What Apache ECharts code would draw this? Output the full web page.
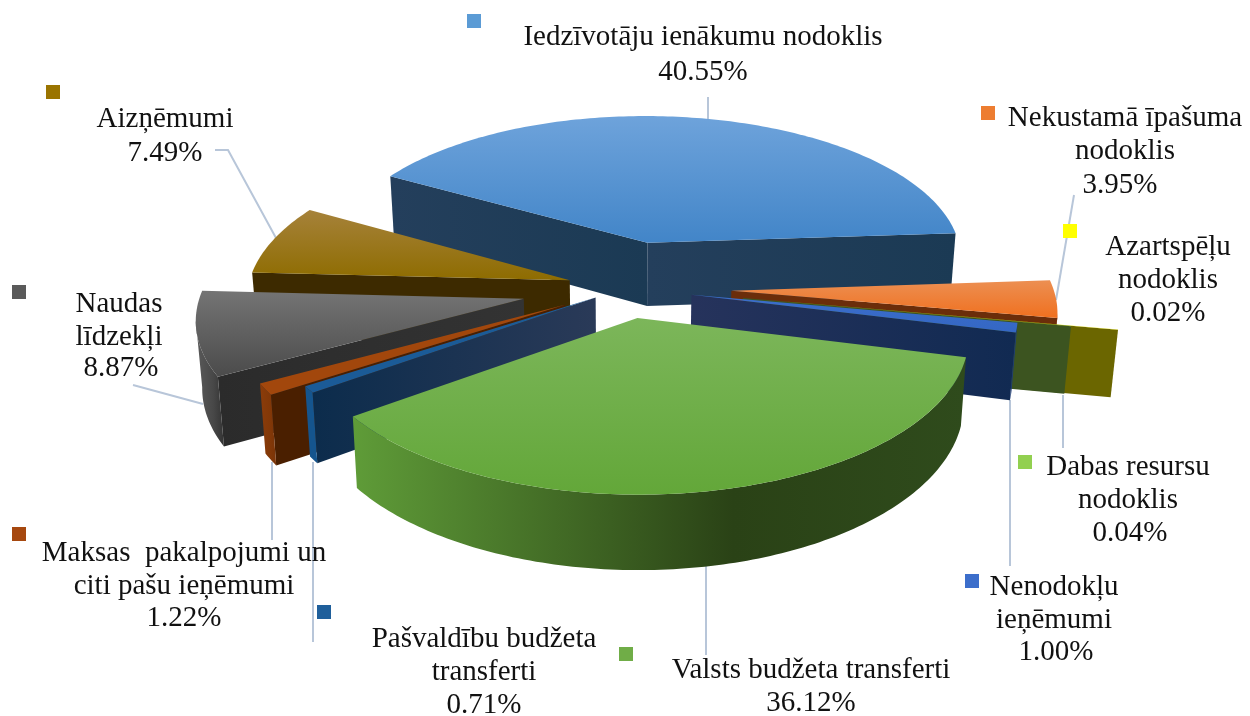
<!DOCTYPE html>
<html><head><meta charset="utf-8">
<style>html,body{margin:0;padding:0;background:#fff}#c{width:1250px;height:716px}</style>
<script src="https://cdn.jsdelivr.net/npm/echarts@6/dist/echarts.min.js"></script></head>
<body><div id="c"></div>
<script>
// Data
const categories = ['Iedzīvotāju ienākumu nodoklis','Nekustamā īpašuma nodoklis','Azartspēļu nodoklis','Dabas resursu nodoklis','Nenodokļu ieņēmumi','Valsts budžeta transferti','Pašvaldību budžeta transferti','Maksas pakalpojumi un citi pašu ieņēmumi','Naudas līdzekļi','Aizņēmumi'];
const shares = [40.55,3.95,0.02,0.04,1.00,36.12,0.71,1.22,8.87,7.49];
const labelLines = [['Iedzīvotāju ienākumu nodoklis'],['Nekustamā īpašuma','nodoklis'],['Azartspēļu','nodoklis'],['Dabas resursu','nodoklis'],['Nenodokļu','ieņēmumi'],['Valsts budžeta transferti'],['Pašvaldību budžeta','transferti'],['Maksas  pakalpojumi un','citi pašu ieņēmumi'],['Naudas','līdzekļi'],['Aizņēmumi']];
// Explosion of each slice as a fraction of the radius
const explode = [0.32,0.33,0.51,0.37,0.21,0.20,0.11,0.215,0.32,0.18];
const paintOrder = [0,1,2,3,4,9,8,7,6,5];

// View
const VIEW = {cx:625,cy:288,S:322,T:150,k:0.11,H:65.5,taper:0.985,start:300};
const TOP = ['#6ea3db','#ec8f52','#ffff00','#92d050','#3c6ecb','#7cb65a','#1b5b97','#a2470c','#747474','#a6823a'];
const TOP2 = ['#4285c8','#f0701f','#ffff00','#92d050','#3467c4','#63a739','#1b5b97','#a2470c','#4b4b4b','#8e6c00'];
const FACEL = ['#243f5c','#6b2d0a','#6b6600','#3c5420','#26335c','#3a5f22','#0c2c4c','#4a1f00','#2b2b2b','#3d2a00'];
const FACER = ['#1b3a54','#6b2d0a','#6b6600','#3c5420','#112a52','#2a431a','#2a3a58','#4a1f00','#333333','#3d2a00'];
const ARCL = ['#24415f','#8a3c10','#6b6600','#3c5420','#1b3a78','#5f9c38','#15558e','#8b3c0a','#5a5a5a','#6e5200'];
const ARCM = ['#24415f','#8a3c10','#6b6600','#3c5420','#1b3a78','#2a4216','#15558e','#823808','#484848','#6e5200'];
const ARCR = ['#24415f','#8a3c10','#6b6600','#3c5420','#1b3a78','#2f4b1c','#15558e','#7a3408','#333333','#6e5200'];

// Label layout
const labelPos = [[703,37],[1125,118],[1168,247],[1128,467],[1054,587],[811,670],[484,639],[184,553],[119,304],[165,119]];
const pctPos = [[703,72],[1120,185],[1168,313],[1130,533],[1056,652],[811,703],[484,705],[184,618],[121,368],[165,153]];
const swatchPos = [[467,14],[981,106],[1063,224],[1018,455],[965,574],[619,647],[317,605],[12,527],[12,285],[46,85]];
const swatchCol = ['#5b9bd5','#ed7d31','#ffff00','#92d050','#3c6ecb','#70ad47','#1f5f9b','#a6480f','#5a5a5a','#9a7400'];
const leaders = [[[708,97],[708,120]],[[1074,195],[1056,300]],null,[[1063,395],[1063,448]],[[1010,400],[1010,566]],[[706,566],[706,655]],[[313,462],[313,642]],[[272,462],[272,540]],[[133,385],[203,404]],[[215,150],[228,150],[276,238]]];

const rad = d => d*Math.PI/180;
function project(X,Y){const s=1/(1+VIEW.k*Y);return [VIEW.cx+VIEW.S*X*s, VIEW.cy-VIEW.T*Y*s, s];}
function lower(p){return [VIEW.cx+(p[0]-VIEW.cx)*VIEW.taper, p[1]+VIEW.H*p[2]];}
const total = shares.reduce((a,b)=>a+b,0);
const LG = (x,y,a,b)=>new echarts.graphic.LinearGradient(0,0,x,y,[{offset:0,color:a},{offset:1,color:b}]);
const LG3 = (a,b,c)=>new echarts.graphic.LinearGradient(0,0,1,0,[{offset:0,color:a},{offset:0.62,color:b},{offset:1,color:c}]);

function renderSlice(params, api){
  const i = params.dataIndex;
  let before = 0; for(let j=0;j<i;j++) before += shares[j];
  const a0 = VIEW.start + before/total*360, a1 = a0 + api.value(0)/total*360, m=(a0+a1)/2;
  const ex = Math.sin(rad(m))*explode[i], ey = Math.cos(rad(m))*explode[i];
  const rim = [], n = Math.max(1,Math.ceil(a1-a0));
  for(let j=0;j<=n;j++){const t=rad(a0+(a1-a0)*j/n); rim.push(project(ex+Math.sin(t),ey+Math.cos(t)));}
  const apex = project(ex,ey), z = 10+paintOrder.indexOf(i)*10;
  const kids = [];
  const quad = (arr,fill,zz)=>{
    const pts = arr.map(p=>[p[0],p[1]]).concat(arr.slice().reverse().map(lower));
    kids.push({type:'polygon',shape:{points:pts},style:{fill:fill},z2:zz});
  };
  // Only walls whose top edge runs right-to-left on screen face the viewer
  if(rim[0][0]<apex[0]) quad([apex,rim[0]],LG(1,0,FACEL[i],FACER[i]),z);
  if(apex[0]<rim[n][0]) quad([rim[n],apex],LG(1,0,FACEL[i],FACER[i]),z);
  let run=[];
  const flush=()=>{ if(run.length>1) quad(run,LG3(ARCL[i],ARCM[i],ARCR[i]),z+1); run=[]; };
  for(let j=0;j<n;j++){
    if(rim[j+1][0]<rim[j][0]){ if(!run.length) run.push(rim[j]); run.push(rim[j+1]); } else flush();
  }
  flush();
  kids.push({type:'polygon',shape:{points:[[apex[0],apex[1]]].concat(rim.map(p=>[p[0],p[1]]))},
    style:{fill:LG(0,1,TOP[i],TOP2[i])},z2:z+2});
  return {type:'group',children:kids};
}

const graphics = [];
const font = '29px "Liberation Serif"';
categories.forEach((c,i)=>{
  if(leaders[i]) graphics.push({type:'polyline',shape:{points:leaders[i]},style:{stroke:'#b8c6d9',lineWidth:2,fill:null},z:1});
  graphics.push({type:'rect',shape:{x:swatchPos[i][0],y:swatchPos[i][1],width:14,height:14},style:{fill:swatchCol[i]},z:5});
  labelLines[i].forEach((t,l)=>{
    graphics.push({type:'text',x:labelPos[i][0],y:labelPos[i][1]+l*33,style:{text:t,font:font,fill:'#111',textAlign:'center',textVerticalAlign:'middle'},z:5});
  });
  graphics.push({type:'text',x:pctPos[i][0],y:pctPos[i][1],style:{text:shares[i].toFixed(2)+'%',font:font,fill:'#111',textAlign:'center',textVerticalAlign:'middle'},z:5});
});

const chart = echarts.init(document.getElementById('c'),null,{renderer:'canvas'});
chart.setOption({
  animation:false,
  backgroundColor:'#fff',
  graphic:graphics,
  series:[{type:'custom',coordinateSystem:'none',z:3,silent:true,renderItem:renderSlice,
    data:categories.map((c,i)=>({name:c,value:[shares[i]]}))}]
});
</script></body></html>
